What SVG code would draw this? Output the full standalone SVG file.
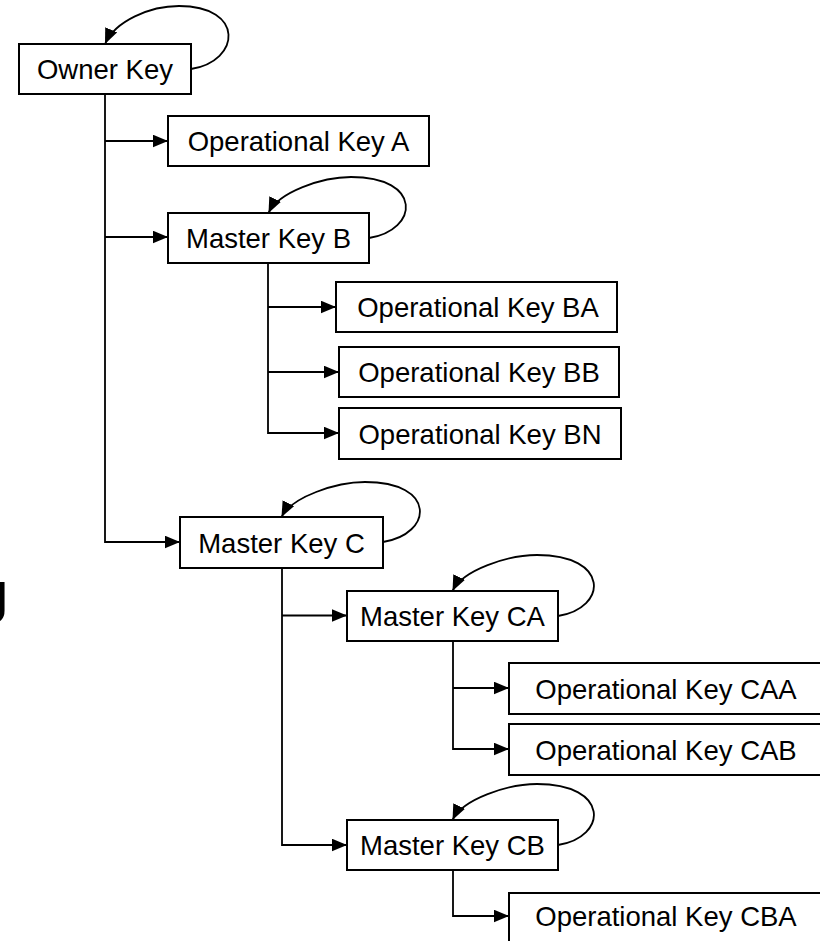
<svg xmlns="http://www.w3.org/2000/svg" width="820" height="941" viewBox="0 0 820 941">
  <style>
    .box { fill: #ffffff; stroke: #000000; stroke-width: 2; }
    .label { font-family: "Liberation Sans", Arial, sans-serif; font-size: 27.5px; fill: #000000; text-anchor: middle; }
    .wire { fill: none; stroke: #000000; stroke-width: 1.8; marker-end: url(#arrow); }
    .loop { fill: none; stroke: #000000; stroke-width: 1.8; marker-end: url(#arrow); }
  </style>
  <defs>
    <marker id="arrow" markerUnits="userSpaceOnUse" markerWidth="16" markerHeight="13" refX="15.5" refY="6.5" orient="auto">
      <path d="M0,0 L15.5,6.5 L0,13 Z" fill="#000000"/>
    </marker>
  </defs>
  <rect width="820" height="941" fill="#ffffff"/>

  <!-- edge fragment at left margin -->
  <text x="-21" y="623" style="font-family: 'Liberation Sans', Arial, sans-serif; font-size: 60px;">J</text>

  <g id="connectors">
    <!-- Owner Key branches -->
    <path class="wire" d="M105,94 V542 H180"/>
    <path class="wire" d="M105,141 H168"/>
    <path class="wire" d="M105,237 H168"/>
    <!-- Master Key B branches -->
    <path class="wire" d="M268,263 V433 H339"/>
    <path class="wire" d="M268,307 H336"/>
    <path class="wire" d="M268,372 H339"/>
    <!-- Master Key C branches -->
    <path class="wire" d="M282,568 V845 H347"/>
    <path class="wire" d="M282,615.5 H347"/>
    <!-- Master Key CA branches -->
    <path class="wire" d="M453,641 V749 H509"/>
    <path class="wire" d="M453,688 H509"/>
    <!-- Master Key CB branch -->
    <path class="wire" d="M453,870 V916 H509"/>
    <!-- self loops -->
    <path class="loop" d="M191,69 C241,61 245,6 179,6 C150,6 115,21 105,44"/>
    <path class="loop" d="M369,238 C419,230 423,177 351,177 C322,177 278.5,192 268.5,213"/>
    <path class="loop" d="M383,542 C433,534 437,482 365,482 C336,482 291.5,497 281.5,517"/>
    <path class="loop" d="M558,616 C608,608 610,555 537,555 C508,555 462.5,570 452.5,591"/>
    <path class="loop" d="M558,845 C608,837 610,784 537,784 C508,784 462.5,799 452.5,820"/>
  </g>

  <g id="owner-key">
    <rect class="box" x="19" y="44" width="172" height="50"/>
    <text class="label" x="105" y="79">Owner Key</text>
  </g>
  <g id="operational-key-a">
    <rect class="box" x="168" y="116" width="261" height="50"/>
    <text class="label" x="298.5" y="151">Operational Key A</text>
  </g>
  <g id="master-key-b">
    <rect class="box" x="168" y="213" width="201" height="50"/>
    <text class="label" x="268.5" y="248">Master Key B</text>
  </g>
  <g id="operational-key-ba">
    <rect class="box" x="336" y="282" width="281" height="50"/>
    <text class="label" x="478" y="317">Operational Key BA</text>
  </g>
  <g id="operational-key-bb">
    <rect class="box" x="339" y="347" width="280" height="50"/>
    <text class="label" x="479" y="382">Operational Key BB</text>
  </g>
  <g id="operational-key-bn">
    <rect class="box" x="339" y="408" width="282" height="51"/>
    <text class="label" x="480" y="443.5">Operational Key BN</text>
  </g>
  <g id="master-key-c">
    <rect class="box" x="180" y="517" width="203" height="51"/>
    <text class="label" x="281.5" y="552.5">Master Key C</text>
  </g>
  <g id="master-key-ca">
    <rect class="box" x="347" y="591" width="211" height="50"/>
    <text class="label" x="452.5" y="626">Master Key CA</text>
  </g>
  <g id="operational-key-caa">
    <rect class="box" x="509" y="663" width="314" height="51"/>
    <text class="label" x="666" y="698.5">Operational Key CAA</text>
  </g>
  <g id="operational-key-cab">
    <rect class="box" x="509" y="724" width="314" height="51"/>
    <text class="label" x="666" y="759.5">Operational Key CAB</text>
  </g>
  <g id="master-key-cb">
    <rect class="box" x="347" y="820" width="211" height="50"/>
    <text class="label" x="452.5" y="855">Master Key CB</text>
  </g>
  <g id="operational-key-cba">
    <rect class="box" x="509" y="893" width="314" height="52"/>
    <text class="label" x="666" y="926">Operational Key CBA</text>
  </g>
</svg>
